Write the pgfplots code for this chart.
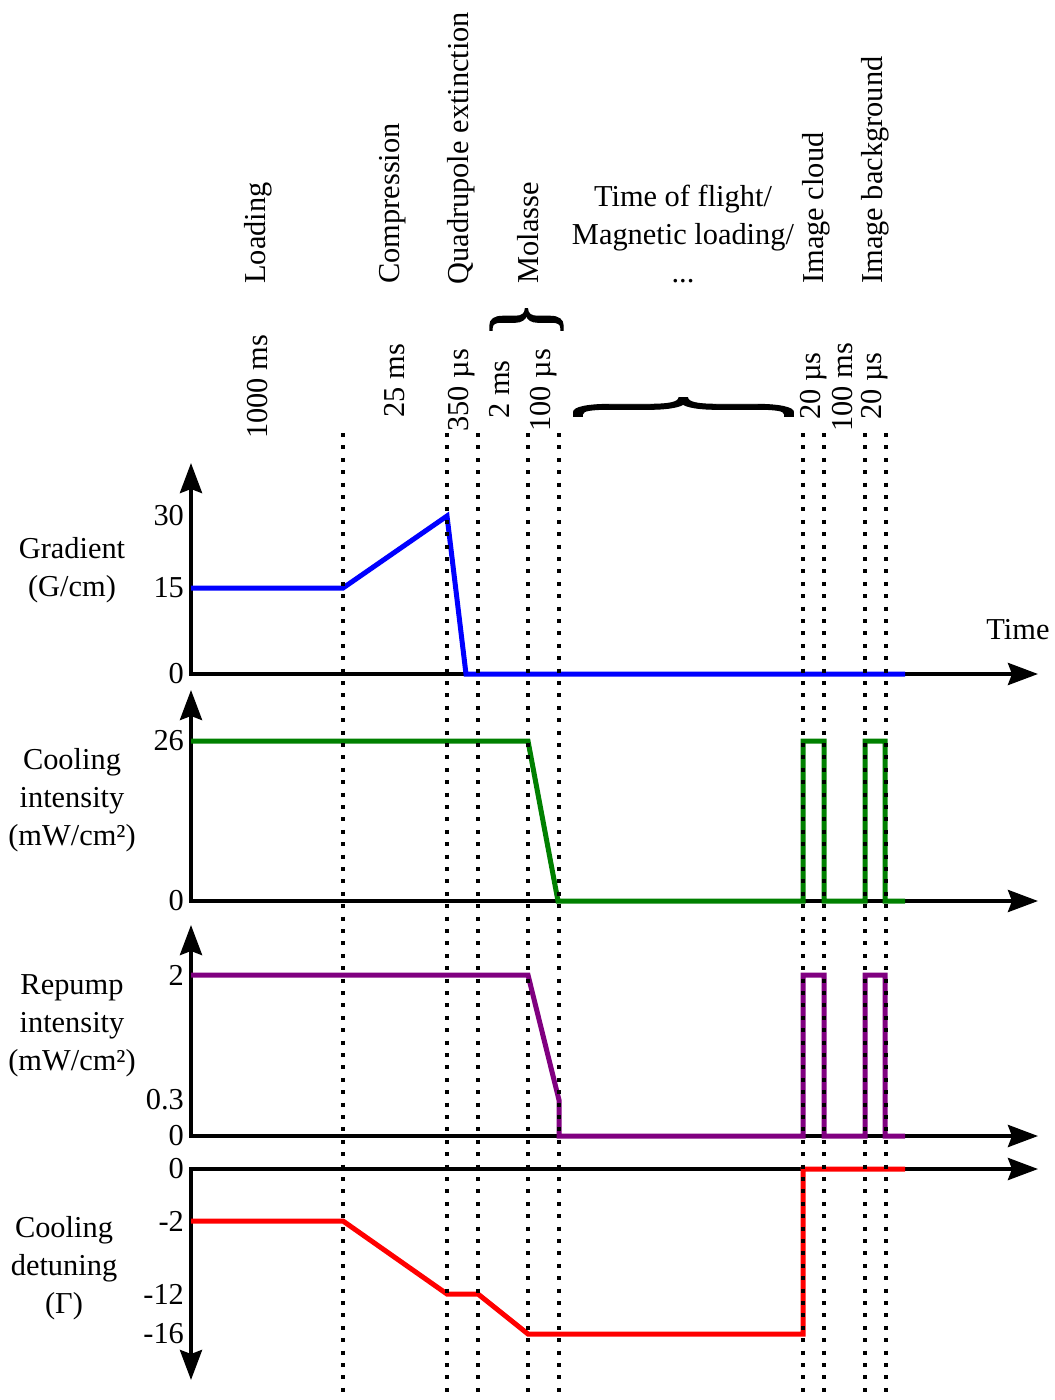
\documentclass[border=0pt]{standalone}
\usepackage{fontspec}
\setmainfont{Liberation Serif}
\newfontfamily\bracefont[FakeBold=1.5]{Liberation Serif}
\usepackage{graphicx}
\usepackage{pgfplots}
\pgfplotsset{compat=1.18}
\usetikzlibrary{arrows.meta}

\definecolor{mygreen}{RGB}{0,128,0}
\definecolor{mypurple}{RGB}{128,0,128}

\newcommand{\fs}{\fontsize{15.2}{19}\selectfont}
\tikzset{
  mytip/.tip={Stealth[length=15pt,width=11pt,inset=2pt]},
  lab/.style={font=\fs, inner sep=0pt},
  rot/.style={lab, rotate=90, anchor=west},
  dots/.style={black, line width=2pt, dash pattern=on 2pt off 4.2pt},
}
\pgfplotsset{
  panel/.style={
    x=0.5pt, y=0.5pt,
    xmin=0, xmax=847, enlargelimits=false, clip=false,
    xtick=\empty, major tick length=0pt,
    tick label style={font=\fs},
    axis line style={line width=2pt, line cap=rect},
  },
  up/.style={
    panel, anchor=south west,
    axis x line*=bottom, axis y line*=left,
    x axis line style={-mytip}, y axis line style={-mytip},
  },
}

\begin{document}
\begin{tikzpicture}
\useasboundingbox (0,0) rectangle (527pt,-700pt);

% Gradient
\begin{axis}[up, at={(95.5pt,-337pt)},
  ymin=0, ymax=41.04,
  y coord trafo/.code={\pgfmathparse{5.733*min(#1,15)+4.8*max(#1-15,0)}},
  ytick={0,15,30}, yticklabels={0,15,30}]
\addplot[blue, line width=2.5pt] coordinates {(0,15) (152,15) (256,30) (275,0) (714,0)};
\end{axis}

% Cooling intensity
\begin{axis}[up, at={(95.5pt,-450.5pt)},
  ymin=0, ymax=34.29,
  y coord trafo/.code={\pgfmathparse{6.154*#1}},
  ytick={0,26}, yticklabels={0,26}]
\addplot[mygreen, line width=2.5pt] coordinates {(0,26) (337,26) (367,0) (612,0) (612,26) (633,26) (633,0) (674,0) (674,26) (694,26) (694,0) (714,0)};
\end{axis}

% Repump intensity
\begin{axis}[up, at={(95.5pt,-568pt)},
  ymin=0, ymax=2.68,
  y coord trafo/.code={\pgfmathparse{120*min(#1,0.3)+73.53*max(#1-0.3,0)}},
  ytick={0,0.3,2}, yticklabels={0,0.3,2}]
\addplot[mypurple, line width=2.5pt] coordinates {(0,2) (337,2) (368,0.3) (368,0) (612,0) (612,2) (633,2) (633,0) (674,0) (674,2) (694,2) (694,0) (714,0)};
\end{axis}

% Cooling detuning
\begin{axis}[panel, anchor=north west, at={(95.5pt,-584.5pt)},
  axis x line*=top, axis y line*=left,
  x axis line style={-mytip}, y axis line style={mytip-},
  ymin=-20.6, ymax=0,
  y coord trafo/.code={\pgfmathparse{26*max(#1,-2)+7.3*(max(min(#1,-2),-12)+2)+10*(min(#1,-12)+12)}},
  ytick={-16,-12,-2,0}, yticklabels={-16,-12,-2,0}]
\addplot[red, line width=2.5pt] coordinates {(0,-2) (152,-2) (256,-12) (287,-12) (337,-16) (612,-16) (612,0) (714,0)};
\end{axis}

% labels and dotted event lines
\begin{axis}[at={(0pt,0pt)}, anchor=north west, x=0.5pt, y=0.5pt, y dir=reverse,
  xmin=0, xmax=1054, ymin=0, ymax=1400, hide axis, clip=false]
\pgfplotsinvokeforeach{343,447,478,528,559,803,824,865,886}{
  \addplot[dots] coordinates {(#1,433) (#1,1400)};
}
\node[rot] at (axis cs:258,284) {Loading};
\node[rot] at (axis cs:258,439) {1000 ms};
\node[rot] at (axis cs:393,284) {Compression};
\node[rot] at (axis cs:395,418) {25 ms};
\node[rot] at (axis cs:461,285) {Quadrupole extinction};
\node[rot] at (axis cs:462,432) {350 µs};
\node[rot] at (axis cs:500,419) {2 ms};
\node[rot] at (axis cs:528,284) {Molasse};
\node[rot] at (axis cs:544,432) {100 µs};
\node[rot] at (axis cs:816,284) {Image cloud};
\node[rot] at (axis cs:875,284) {Image background};
\node[rot] at (axis cs:814,420) {20 µs};
\node[rot] at (axis cs:843,432) {100 ms};
\node[rot] at (axis cs:875,420) {20 µs};
\node[lab, align=center] at (axis cs:683,234) {Time of flight/\\Magnetic loading/\\...};
\node[lab] at (axis cs:526.5,319.5) {\resizebox*{36.5pt}{17.5pt}{\rotatebox{90}{\bracefont\}}}};
\node[lab] at (axis cs:683.5,407) {\resizebox*{108.5pt}{15pt}{\rotatebox{90}{\bracefont\}}}};
\node[lab] at (axis cs:1018,630) {Time};
\node[lab, align=center] at (axis cs:72,570) {Gradient\\(G/cm)};
\node[lab, align=center] at (axis cs:72,800) {Cooling\\intensity\\(mW/cm²)};
\node[lab, align=center] at (axis cs:72,1026) {Repump\\intensity\\(mW/cm²)};
\node[lab, align=center] at (axis cs:64,1268) {Cooling\\detuning\\(Γ)};
\end{axis}
\end{tikzpicture}
\end{document}
